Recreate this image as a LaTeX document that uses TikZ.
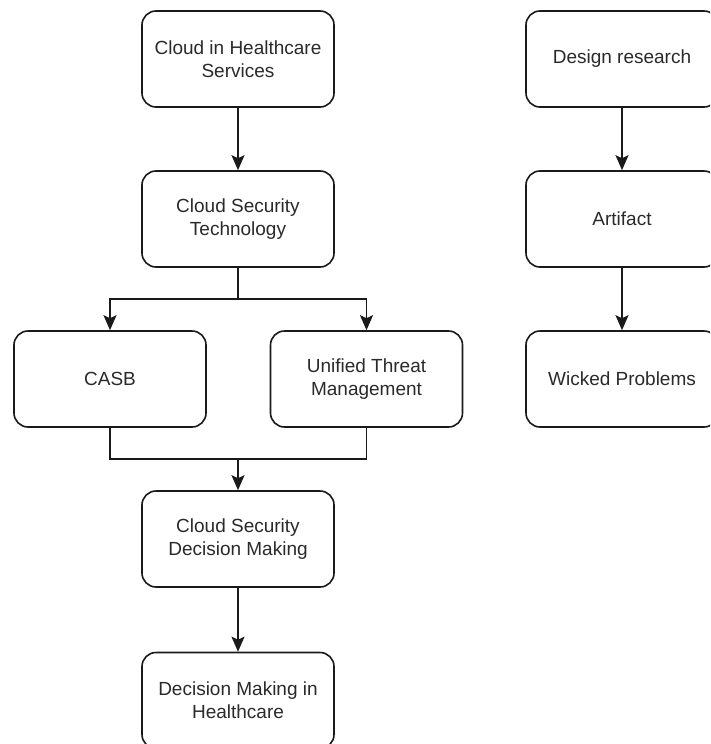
\documentclass[tikz,border=0pt]{standalone}
\usepackage{fontspec}
\setmainfont{Liberation Sans}
\usetikzlibrary{arrows.meta}
\definecolor{ink}{HTML}{1A1A1A}
\definecolor{label}{HTML}{2A2A2A}
\tikzset{
  box/.style={draw=ink, line width=1.6pt, rounded corners=14pt, rectangle,
    minimum width=192pt, minimum height=96pt, align=center, text=label,
    font=\fontsize{19}{23}\selectfont},
  link/.style={draw=ink, line width=1.6pt},
  arr/.style={link, -{Stealth[length=15pt,width=13pt,inset=3pt]}}
}
\begin{document}
\begin{tikzpicture}[x=1pt,y=-1pt]
  \clip (0,0) rectangle (710,744);
  \fill[white] (0,0) rectangle (710,744);
  % left column
  \node[box] (chs) at (238,59) {Cloud in Healthcare\\Services};
  \node[box] (cst) at (238,219) {Cloud Security\\Technology};
  \node[box] (casb) at (110,379) {CASB};
  \node[box] (utm) at (366.5,379) {Unified Threat\\Management};
  \node[box] (csdm) at (238,539) {Cloud Security\\Decision Making};
  \node[box] (dmh) at (238,700.5) {Decision Making in\\Healthcare};
  % right column
  \node[box] (dr) at (622,59) {Design research};
  \node[box] (art) at (622,219) {Artifact};
  \node[box] (wp) at (622,379) {Wicked Problems};
  % branching and merging points
  \coordinate (split) at (238,299);
  \coordinate (join) at (238,459);
  % connectors
  \draw[arr] (chs.south) -- (cst.north);
  \draw[link] (cst.south) -- (split);
  \draw[arr] (split) -| (casb.north);
  \draw[arr] (split) -| (utm.north);
  \draw[link] (casb.south) |- (join);
  \draw[link] (utm.south) |- (join);
  \draw[arr] (join) -- (csdm.north);
  \draw[arr] (csdm.south) -- (dmh.north);
  \draw[arr] (dr.south) -- (art.north);
  \draw[arr] (art.south) -- (wp.north);
\end{tikzpicture}
\end{document}
